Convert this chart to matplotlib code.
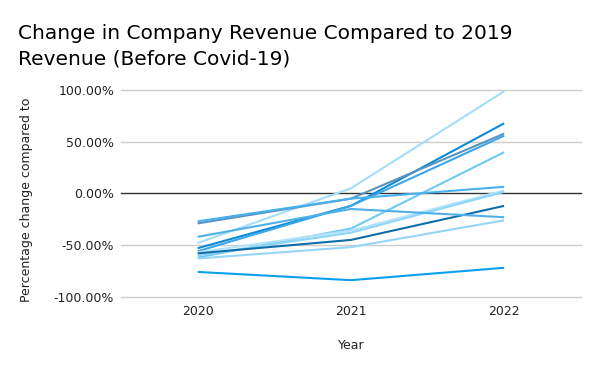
import matplotlib
matplotlib.use("Agg")
import matplotlib.pyplot as plt
from matplotlib.ticker import FuncFormatter

years = [2020, 2021, 2022]

# % change vs 2019 revenue, one list per company
company_a = [-48, 5, 99]
company_b = [-53, -12, 68]
company_c = [-29, -5, 58]
company_d = [-56, -12, 56]
company_e = [-62, -34, 40]
company_f = [-27, -5, 6.5]
company_g = [-57, -36, 3]
company_h = [-60, -38, 1.6]
company_i = [-58, -45, -12]
company_j = [-42, -15, -23]
company_k = [-63, -52, -26]
company_l = [-76, -84, -72]

series = [company_a, company_b, company_c, company_d, company_e, company_f,
          company_g, company_h, company_i, company_j, company_k, company_l]
colors = ['#a5ddf8', '#0c8ad6', '#5b93bd', '#3aa6ec', '#70c8f5', '#47b0ef',
          '#b3e3fa', '#8fd5f8', '#0f6ea8', '#4fb0e8', '#95d6f7', '#0aa0ef']

yticks = [-100, -50, 0, 50, 100]

fig = plt.figure(figsize=(6, 3.71), dpi=100)
ax = fig.add_axes([0.2017, 0.2003, 0.7663, 0.5563])

for vals, c in zip(series, colors):
    ax.plot(years, vals, color=c, lw=1.5, solid_capstyle='butt', zorder=3)

ax.set_xlim(2019.5, 2022.5)
ax.set_ylim(-100, 100)
ax.set_xticks(years)
ax.set_xticklabels([str(y) for y in years])
ax.set_yticks(yticks)
ax.yaxis.set_major_formatter(FuncFormatter(lambda v, p: '%.2f%%' % v))

# gridlines drawn by hand so the edge ones are not clipped
for t in yticks:
    ax.axhline(t, color='#333333' if t == 0 else '#cccccc', lw=1, zorder=1, clip_on=False)
for s in ax.spines.values():
    s.set_visible(False)
ax.tick_params(length=0, labelsize=9, colors='#222222')
ax.tick_params(axis='y', pad=5)
ax.tick_params(axis='x', pad=6)

ax.set_xlabel('Year', fontsize=9, color='#222222', labelpad=15)
ax.set_ylabel('Percentage change compared to', fontsize=9, color='#222222')
ax.yaxis.set_label_coords(-0.192, 0.47)

fig.text(0.03, 0.935, 'Change in Company Revenue Compared to 2019\nRevenue (Before Covid-19)',
         fontsize=14.5, va='top', ha='left', color='#000000', linespacing=1.45)

fig.savefig('out.png', dpi=100)
